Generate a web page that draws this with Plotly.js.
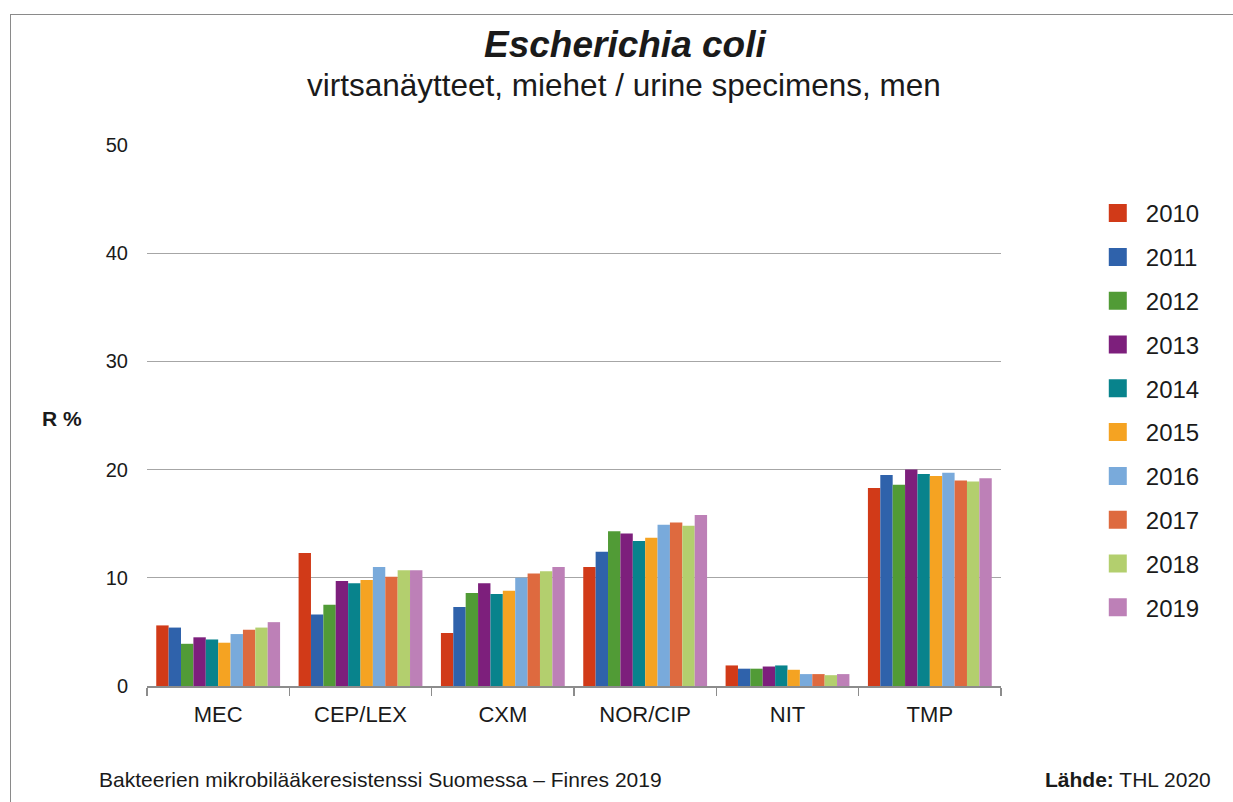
<!DOCTYPE html>
<html>
<head>
<meta charset="utf-8">
<script src="https://cdn.plot.ly/plotly-3.0.1.min.js"></script>
<style>
  html, body { margin: 0; padding: 0; background: #fff; }
  #frame { position: absolute; left: 10px; top: 14px; width: 1240px; height: 800px;
           border-left: 1px solid #8a8a8a; border-top: 1px solid #8a8a8a; }
  #chart { position: absolute; left: 0; top: 0; width: 1233px; height: 802px; }
</style>
</head>
<body>
<div id="frame"></div>
<div id="chart"></div>
<script>
const categories = ["MEC", "CEP/LEX", "CXM", "NOR/CIP", "NIT", "TMP"];
const years = ["2010", "2011", "2012", "2013", "2014", "2015", "2016", "2017", "2018", "2019"];
const colors = ["#d13a18", "#2f62ab", "#519b36", "#7d1f7c", "#08838c", "#f5a322", "#79aadb", "#de6a3f", "#b3cf6e", "#bd80b7"];

const r2010 = [5.6, 12.3, 4.9, 11.0, 1.9, 18.3];
const r2011 = [5.4, 6.6, 7.3, 12.4, 1.6, 19.5];
const r2012 = [3.9, 7.5, 8.6, 14.3, 1.6, 18.6];
const r2013 = [4.5, 9.7, 9.5, 14.1, 1.8, 20.0];
const r2014 = [4.3, 9.5, 8.5, 13.4, 1.9, 19.6];
const r2015 = [4.0, 9.8, 8.8, 13.7, 1.5, 19.4];
const r2016 = [4.8, 11.0, 10.0, 14.9, 1.1, 19.7];
const r2017 = [5.2, 10.1, 10.4, 15.1, 1.1, 19.0];
const r2018 = [5.4, 10.7, 10.6, 14.8, 1.0, 18.9];
const r2019 = [5.9, 10.7, 11.0, 15.8, 1.1, 19.2];
const series = [r2010, r2011, r2012, r2013, r2014, r2015, r2016, r2017, r2018, r2019];

const yTicks = [0, 10, 20, 30, 40, 50];

const titleText = "Escherichia coli";
const subtitleText = "virtsanäytteet, miehet / urine specimens, men";
const yTitleText = "R %";
const footerLeft = "Bakteerien mikrobilääkeresistenssi Suomessa – Finres 2019";
const footerRight = "<b>Lähde:</b> THL 2020";

const FONT = "Liberation Sans, Arial, sans-serif";
const TXT = "#1a1a1a";

const traces = series.map((vals, i) => ({
  type: "bar",
  name: years[i],
  x: categories,
  y: vals,
  legendgroup: years[i],
  marker: { color: colors[i], line: { width: 0 } },
  hoverinfo: "x+y+name"
}));

const layout = {
  width: 1233,
  height: 802,
  paper_bgcolor: "rgba(0,0,0,0)",
  plot_bgcolor: "rgba(0,0,0,0)",
  margin: { l: 147, r: 232, t: 145, b: 116 },
  barmode: "group",
  bargap: 0.13,
  bargroupgap: 0,
  font: { family: FONT, color: TXT },
  showlegend: true,
  legend: {
    x: 1.1227, xanchor: "left", xref: "paper",
    y: 0.915, yanchor: "top",
    font: { family: FONT, size: 24, color: TXT },
    tracegroupgap: 9.6,
    itemwidth: 30,
    bgcolor: "rgba(0,0,0,0)"
  },
  xaxis: {
    type: "category",
    showgrid: false,
    showline: true,
    linecolor: "#8c8c8c",
    linewidth: 1.5,
    ticks: "outside",
    tickson: "boundaries",
    ticklen: 8,
    tickcolor: "#8c8c8c",
    tickwidth: 1.5,
    tickfont: { family: FONT, size: 22, color: TXT },
    ticklabelstandoff: 8,
    fixedrange: true
  },
  yaxis: {
    range: [0, 50],
    tickvals: yTicks,
    ticktext: yTicks.map(String),
    showgrid: true,
    gridcolor: "#a6a6a6",
    gridwidth: 1,
    zeroline: false,
    showline: false,
    ticks: "",
    tickfont: { family: FONT, size: 20, color: TXT },
    ticklabelstandoff: 18,
    fixedrange: true
  },
  annotations: [
    { text: "<b><i>" + titleText + "</i></b>", xref: "paper", yref: "paper", x: 0.56, y: 1.185,
      xanchor: "center", yanchor: "middle", showarrow: false,
      font: { family: FONT, size: 37, color: TXT } },
    { text: subtitleText, xref: "paper", yref: "paper", x: 0.558, y: 1.111,
      xanchor: "center", yanchor: "middle", showarrow: false,
      font: { family: FONT, size: 31.5, color: TXT } },
    { text: "<b>" + yTitleText + "</b>", xref: "paper", yref: "paper", x: -0.099, y: 0.495,
      xanchor: "center", yanchor: "middle", showarrow: false,
      font: { family: FONT, size: 21, color: TXT } },
    { text: footerLeft, xref: "paper", yref: "paper",
      x: -0.058, y: -0.172, xanchor: "left", yanchor: "middle", showarrow: false,
      font: { family: FONT, size: 21, color: TXT } },
    { text: footerRight, xref: "paper", yref: "paper",
      x: 1.248, y: -0.172, xanchor: "right", yanchor: "middle", showarrow: false,
      font: { family: FONT, size: 21, color: TXT } }
  ]
};

Plotly.newPlot("chart", traces, layout, { displayModeBar: false, staticPlot: true }).then(gd => {
  // enlarge the legend swatches to match the reference's bigger squares
  gd.querySelectorAll(".legendpoints path").forEach(p => {
    p.setAttribute("transform", "translate(12,0) scale(1.5)");
  });
});
</script>
</body>
</html>
